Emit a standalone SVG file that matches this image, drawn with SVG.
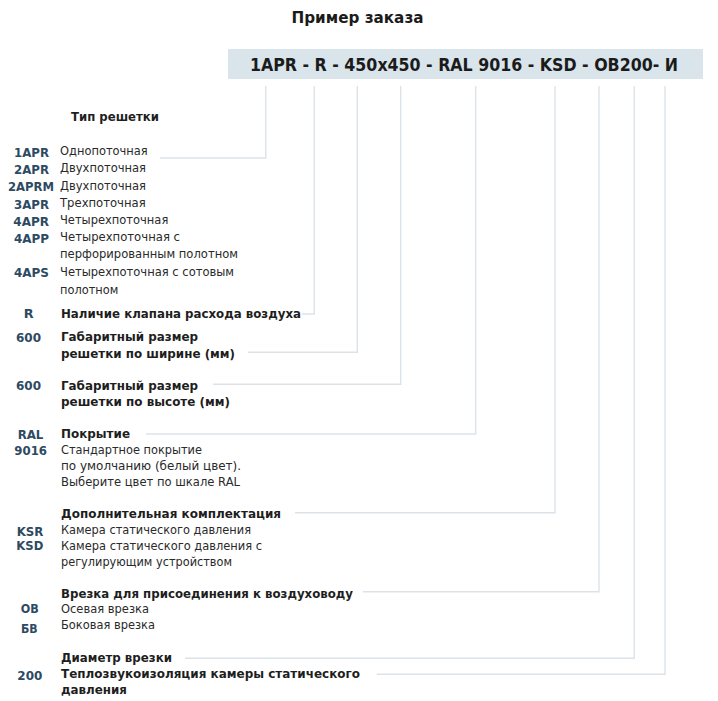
<svg xmlns="http://www.w3.org/2000/svg" width="718" height="701" viewBox="0 0 718 701">
<style>
text{font-family:"DejaVu Sans","Liberation Sans",sans-serif}
.t{font-size:15px;font-weight:bold;fill:#1b1b1b}
.h{font-size:18.5px;font-weight:bold;fill:#1b1b1b}
.c{font-size:12.8px;font-weight:bold;fill:#2d4a62}
.l{font-size:12.8px;font-weight:bold;fill:#1e1e1e}
.d{font-size:12.8px;fill:#2a2a2a}
.conn path{fill:none;stroke:#dbe3e9;stroke-width:1.4}
</style>
<rect width="718" height="701" fill="#ffffff"/>
<g id="title"><text class="t" x="291.5" y="23.3" textLength="132" lengthAdjust="spacingAndGlyphs">Пример заказа</text></g>
<g id="code">
<rect x="228" y="49" width="475" height="30" fill="#d9e4eb"/>
<text class="h" x="250" y="71" textLength="428" lengthAdjust="spacingAndGlyphs">1APR - R - 450x450 - RAL 9016 - KSD - OB200- И</text>
</g>
<g class="conn" id="connectors">
<path d="M160,158 H265.7 V86"/>
<path d="M302,314 H314.3 V86"/>
<path d="M248,352.3 H357.3 V86"/>
<path d="M213,384.3 H400.7 V86"/>
<path d="M146,434 H475.7 V86"/>
<path d="M295,512.7 H555 V86"/>
<path d="M363,591.7 H599 V86"/>
<path d="M185,658.3 H634.3 V86"/>
<path d="M376.7,674.3 H665 V86"/>
</g>
<g id="type">
<text class="l" x="71" y="120.7" textLength="88" lengthAdjust="spacingAndGlyphs">Тип решетки</text>
<text class="c" x="14" y="156.7" textLength="35" lengthAdjust="spacingAndGlyphs">1APR</text>
<text class="c" x="14" y="174.3" textLength="35" lengthAdjust="spacingAndGlyphs">2APR</text>
<text class="c" x="8" y="191" textLength="46" lengthAdjust="spacingAndGlyphs">2APRM</text>
<text class="c" x="14" y="208.7" textLength="35" lengthAdjust="spacingAndGlyphs">3APR</text>
<text class="c" x="13.3" y="226.3" textLength="35.7" lengthAdjust="spacingAndGlyphs">4APR</text>
<text class="c" x="14" y="242.7" textLength="35" lengthAdjust="spacingAndGlyphs">4APP</text>
<text class="c" x="14" y="277" textLength="35" lengthAdjust="spacingAndGlyphs">4APS</text>
<text class="d" x="60" y="155.3" textLength="87.7" lengthAdjust="spacingAndGlyphs">Однопоточная</text>
<text class="d" x="60" y="172.3" textLength="86" lengthAdjust="spacingAndGlyphs">Двухпоточная</text>
<text class="d" x="60" y="189.7" textLength="86" lengthAdjust="spacingAndGlyphs">Двухпоточная</text>
<text class="d" x="60" y="207" textLength="85.7" lengthAdjust="spacingAndGlyphs">Трехпоточная</text>
<text class="d" x="60" y="224" textLength="108.3" lengthAdjust="spacingAndGlyphs">Четырехпоточная</text>
<text class="d" x="60" y="241.3" textLength="120" lengthAdjust="spacingAndGlyphs">Четырехпоточная с</text>
<text class="d" x="60" y="258.3" textLength="178" lengthAdjust="spacingAndGlyphs">перфорированным полотном</text>
<text class="d" x="60" y="276.3" textLength="174" lengthAdjust="spacingAndGlyphs">Четырехпоточная с сотовым</text>
<text class="d" x="60" y="293.7" textLength="58.3" lengthAdjust="spacingAndGlyphs">полотном</text>
</g>
<g id="valve">
<text class="c" x="28.7" y="318" text-anchor="middle">R</text>
<text class="l" x="61" y="318" textLength="240" lengthAdjust="spacingAndGlyphs">Наличие клапана расхода воздуха</text>
</g>
<g id="width">
<text class="c" x="16" y="342.3" textLength="25" lengthAdjust="spacingAndGlyphs">600</text>
<text class="l" x="61" y="341.3" textLength="137" lengthAdjust="spacingAndGlyphs">Габаритный размер</text>
<text class="l" x="61" y="357.7" textLength="174" lengthAdjust="spacingAndGlyphs">решетки по ширине (мм)</text>
</g>
<g id="height">
<text class="c" x="16" y="390" textLength="25" lengthAdjust="spacingAndGlyphs">600</text>
<text class="l" x="61" y="390" textLength="137" lengthAdjust="spacingAndGlyphs">Габаритный размер</text>
<text class="l" x="61" y="405.7" textLength="169" lengthAdjust="spacingAndGlyphs">решетки по высоте (мм)</text>
</g>
<g id="coating">
<text class="c" x="17.7" y="438.7" textLength="25.7" lengthAdjust="spacingAndGlyphs">RAL</text>
<text class="c" x="14.3" y="454.7" textLength="32.7" lengthAdjust="spacingAndGlyphs">9016</text>
<text class="l" x="61" y="437.7" textLength="69" lengthAdjust="spacingAndGlyphs">Покрытие</text>
<text class="d" x="61" y="454" textLength="141" lengthAdjust="spacingAndGlyphs">Стандартное покрытие</text>
<text class="d" x="61" y="470" textLength="180" lengthAdjust="spacingAndGlyphs">по умолчанию (белый цвет).</text>
<text class="d" x="61" y="486" textLength="179" lengthAdjust="spacingAndGlyphs">Выберите цвет по шкале RAL</text>
</g>
<g id="extra">
<text class="l" x="61" y="517.7" textLength="220" lengthAdjust="spacingAndGlyphs">Дополнительная комплектация</text>
<text class="c" x="16.7" y="536" textLength="26.7" lengthAdjust="spacingAndGlyphs">KSR</text>
<text class="c" x="16.3" y="549.5" textLength="27" lengthAdjust="spacingAndGlyphs">KSD</text>
<text class="d" x="61" y="533.7" textLength="190" lengthAdjust="spacingAndGlyphs">Камера статического давления</text>
<text class="d" x="61" y="550" textLength="201" lengthAdjust="spacingAndGlyphs">Камера статического давления с</text>
<text class="d" x="61" y="565.7" textLength="171" lengthAdjust="spacingAndGlyphs">регулирующим устройством</text>
</g>
<g id="inlet">
<text class="l" x="61" y="598.3" textLength="292" lengthAdjust="spacingAndGlyphs">Врезка для присоединения к воздуховоду</text>
<text class="c" x="20.7" y="613" textLength="18" lengthAdjust="spacingAndGlyphs">ОВ</text>
<text class="c" x="21" y="633.3" textLength="16.7" lengthAdjust="spacingAndGlyphs">БВ</text>
<text class="d" x="61" y="613.3" textLength="88" lengthAdjust="spacingAndGlyphs">Осевая врезка</text>
<text class="d" x="61" y="629.3" textLength="94" lengthAdjust="spacingAndGlyphs">Боковая врезка</text>
</g>
<g id="diameter">
<text class="l" x="61" y="662.3" textLength="111" lengthAdjust="spacingAndGlyphs">Диаметр врезки</text>
<text class="c" x="17.3" y="679.7" textLength="25" lengthAdjust="spacingAndGlyphs">200</text>
</g>
<g id="insulation">
<text class="l" x="61" y="677.7" textLength="299" lengthAdjust="spacingAndGlyphs">Теплозвукоизоляция камеры статического</text>
<text class="l" x="61" y="693.7" textLength="66" lengthAdjust="spacingAndGlyphs">давления</text>
</g>
</svg>
